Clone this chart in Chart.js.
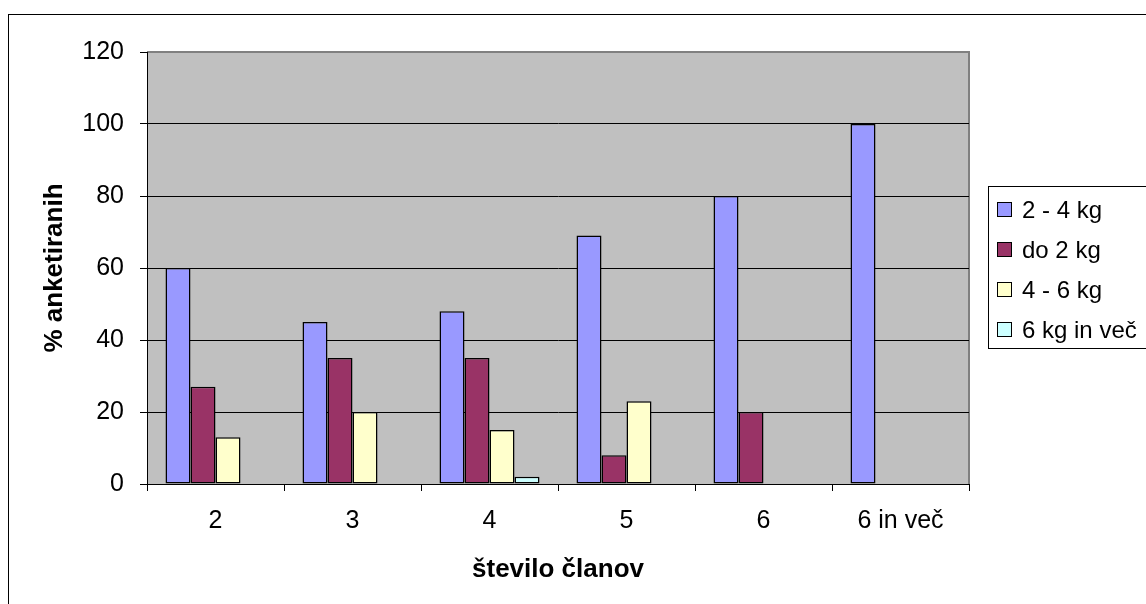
<!DOCTYPE html>
<html>
<head>
<meta charset="utf-8">
<script src="https://cdn.jsdelivr.net/npm/chart.js@4.4.1/dist/chart.umd.min.js"></script>
<style>
  body { margin: 0; background: #fff; }
  #wrap { width: 1146px; height: 604px; }
</style>
</head>
<body>
<div id="wrap"><canvas id="clani_chart" width="1146" height="604"></canvas></div>
<script>
var categories = ['2', '3', '4', '5', '6', '6 in več'];
var seriesNames = ['2 - 4 kg', 'do 2 kg', '4 - 6 kg', '6 kg in več'];
var kg2do4 = [60, 45, 48, 69, 80, 100];
var do2kg = [27, 35, 35, 8, 20, null];
var kg4do6 = [13, 20, 15, 23, null, null];
var kg6inVec = [null, null, 2, null, null, null];
var yTicks = [0, 20, 40, 60, 80, 100, 120];

var colours = ['#9999FF', '#993366', '#FFFFCC', '#CCFFFF'];
var fontFam = "'Liberation Sans', Arial, sans-serif";

// gray plot area + outer frame + boxed legend (Excel look)
var excelLook = {
  id: 'excelLook',
  beforeDraw: function(chart) {
    var ctx = chart.ctx, a = chart.chartArea;
    ctx.save();
    ctx.fillStyle = '#fff';
    ctx.fillRect(0, 0, chart.width, chart.height);
    ctx.strokeStyle = '#000';
    ctx.lineWidth = 1;
    ctx.strokeRect(8.5, 14.5, 1300, 800);
    ctx.fillStyle = '#C0C0C0';
    ctx.fillRect(a.left, a.top, a.right - a.left, a.bottom - a.top);
    ctx.strokeStyle = '#808080';
    ctx.lineWidth = 2;
    ctx.beginPath();
    ctx.moveTo(a.left, a.top);
    ctx.lineTo(a.right, a.top);
    ctx.lineTo(a.right, a.bottom);
    ctx.stroke();
    ctx.restore();
  },
  afterDraw: function(chart) {
    var ctx = chart.ctx;
    var ds = chart.data.datasets;
    ctx.save();
    ctx.fillStyle = '#fff';
    ctx.fillRect(988, 186, 200, 162);
    ctx.strokeStyle = '#000';
    ctx.lineWidth = 1;
    ctx.strokeRect(988.5, 186.5, 200, 162);
    ctx.font = '24px ' + fontFam;
    ctx.textBaseline = 'middle';
    ctx.textAlign = 'left';
    for (var i = 0; i < ds.length; i++) {
      var y = 210 + i * 40;
      ctx.fillStyle = ds[i].backgroundColor;
      ctx.fillRect(997.5, y - 7.5, 14, 14);
      ctx.strokeStyle = '#000';
      ctx.strokeRect(997.5, y - 7.5, 14, 14);
      ctx.fillStyle = '#000';
      ctx.fillText(ds[i].label, 1022, y + 1);
    }
    ctx.restore();
  }
};

var allSeries = [kg2do4, do2kg, kg4do6, kg6inVec];
var datasets = [];
allSeries.forEach(function(vals, i) {
  datasets.push({
    label: seriesNames[i],
    data: vals,
    backgroundColor: colours[i],
    borderColor: '#000',
    borderWidth: 1.5,
    borderSkipped: false,
    categoryPercentage: 0.73,
    barPercentage: 1.0
  });
});

var myChart = new Chart(document.getElementById('clani_chart'), {
  type: 'bar',
  data: {
    labels: categories,
    datasets: datasets
  },
  options: {
    responsive: false,
    animation: false,
    layout: { padding: { left: 0, top: 52, right: 177, bottom: 0 } },
    plugins: {
      legend: { display: false },
      tooltip: { enabled: false }
    },
    scales: {
      x: {
        offset: true,
        grid: {
          offset: true,
          drawOnChartArea: false,
          drawTicks: true,
          tickLength: 7,
          color: '#000',
          tickColor: '#000'
        },
        border: { color: '#000', width: 1 },
        ticks: {
          color: '#000',
          padding: 15,
          maxRotation: 0,
          font: { family: fontFam, size: 25 }
        },
        title: {
          display: true,
          text: 'število članov',
          color: '#000',
          padding: { top: 0, bottom: 19 },
          font: { family: fontFam, size: 26, weight: 'bold' }
        },
        afterFit: function(scale) { scale.height = 120; }
      },
      y: {
        min: 0,
        max: 120,
        afterBuildTicks: function(scale) {
          scale.ticks = yTicks.map(function(v) { return { value: v }; });
        },
        grid: {
          color: function(c) { return c.tick && c.tick.value === 120 ? '#808080' : '#000'; },
          tickColor: '#000',
          tickLength: 7,
          lineWidth: 1
        },
        border: { color: '#000', width: 1 },
        ticks: {
          color: '#000',
          padding: 16,
          font: { family: fontFam, size: 25 }
        },
        title: {
          display: true,
          text: '% anketiranih',
          color: '#000',
          padding: { top: 39, bottom: 0 },
          font: { family: fontFam, size: 26, weight: 'bold' }
        },
        afterFit: function(scale) { scale.width = 147; }
      }
    }
  },
  plugins: [excelLook]
});
</script>
</body>
</html>
